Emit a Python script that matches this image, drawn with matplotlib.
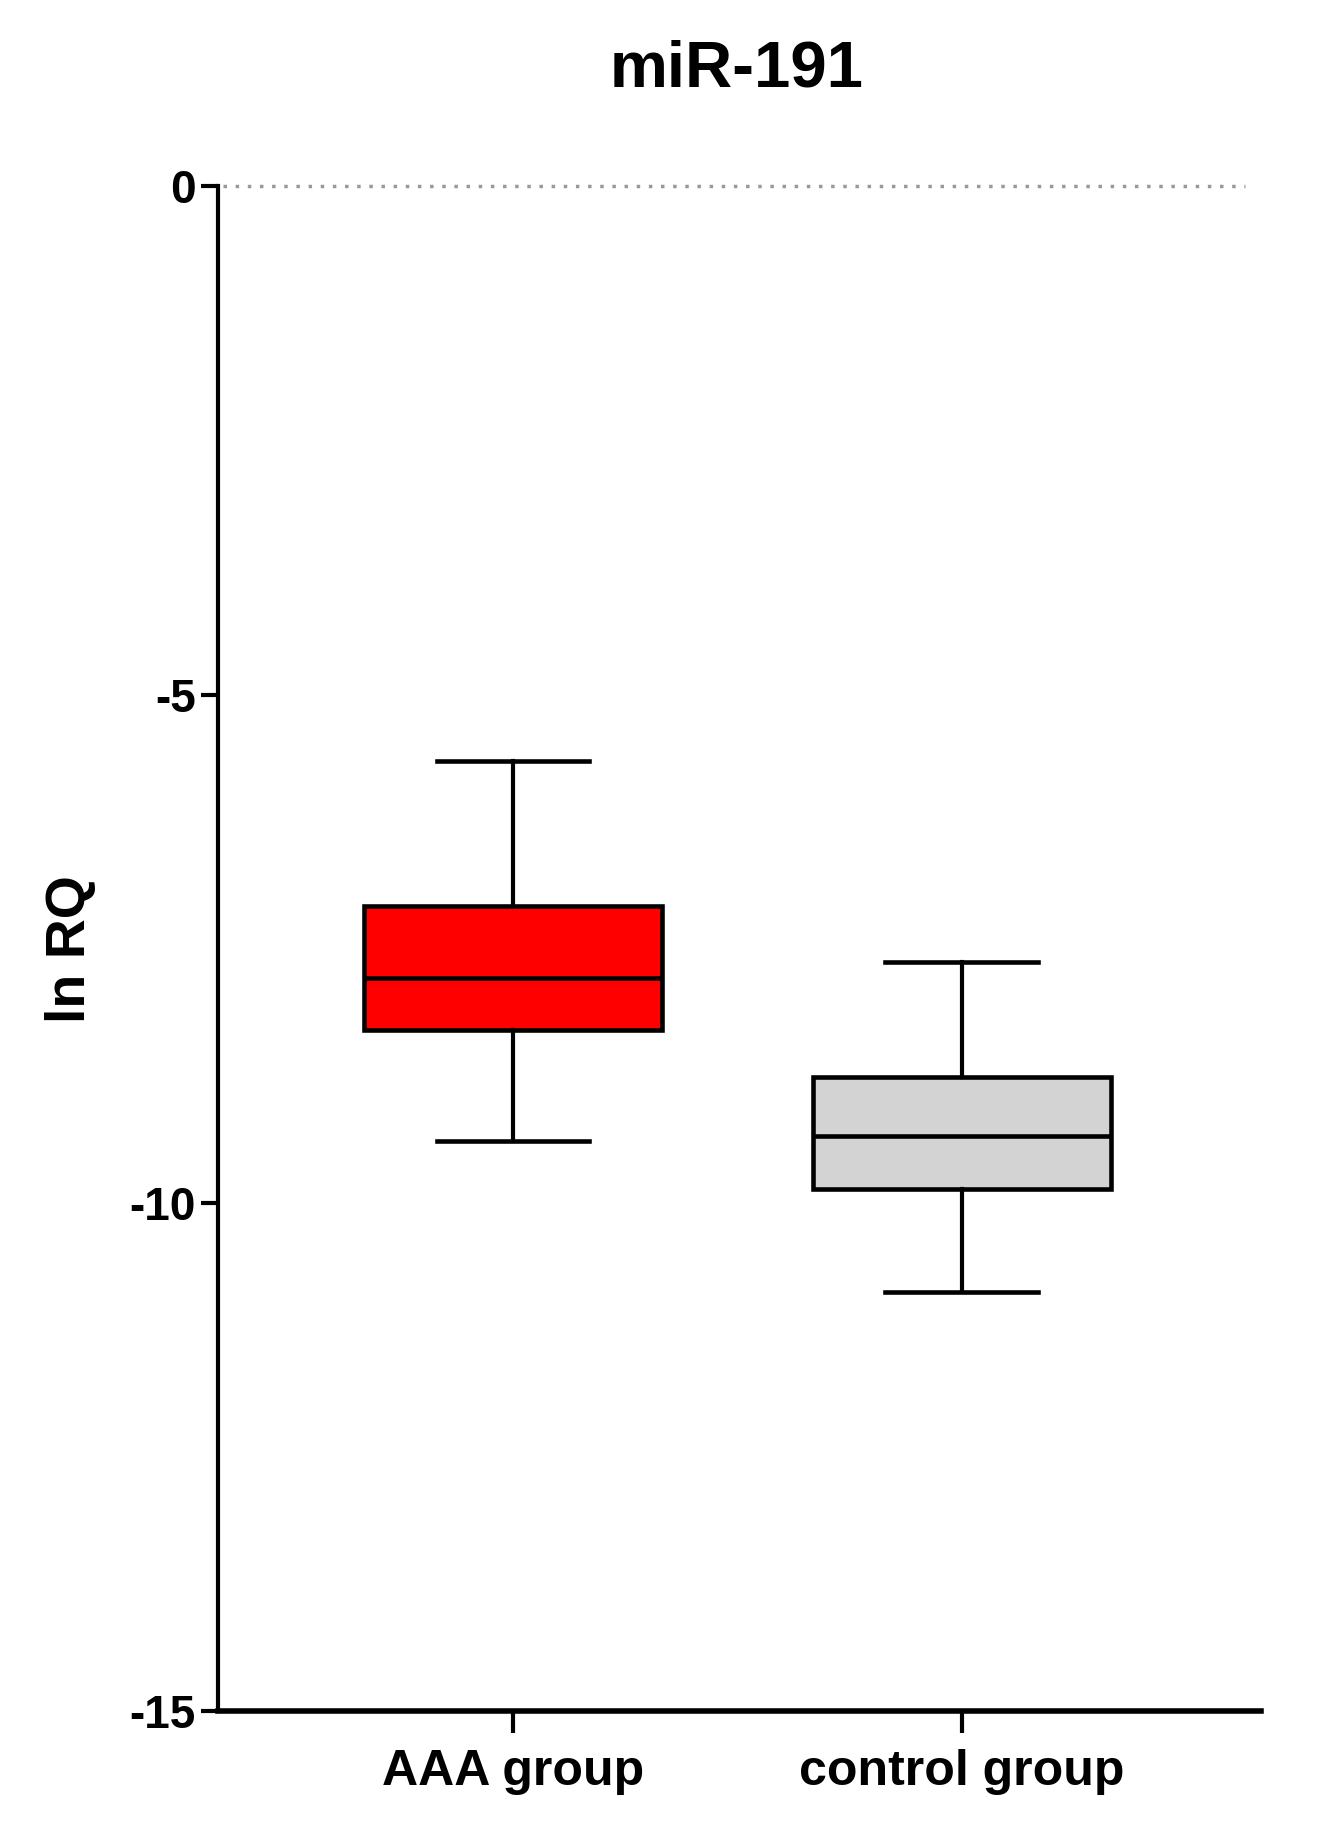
import matplotlib
matplotlib.use('Agg')
import matplotlib.pyplot as plt

plt.rcParams['font.family'] = ['Liberation Sans', 'DejaVu Sans']
plt.rcParams['font.weight'] = 'bold'

groups = ['AAA group', 'control group']
whis_low = [-9.39, -10.88]
q1 = [-8.30, -9.86]
median = [-7.79, -9.34]
q3 = [-7.08, -8.76]
whis_high = [-5.65, -7.63]
colors = ['#ff0000', '#d3d3d3']
yticks = [0, -5, -10, -15]

fig = plt.figure(figsize=(13.24, 18.28), dpi=100)
ax = fig.add_axes([0.1647, 0.064, 0.7878, 0.834])

stats = []
for i in range(len(groups)):
    stats.append({'label': groups[i], 'whislo': whis_low[i], 'q1': q1[i],
                  'med': median[i], 'q3': q3[i], 'whishi': whis_high[i]})

bp = ax.bxp(stats, positions=[0, 1], widths=0.665, showfliers=False,
            patch_artist=True,
            boxprops=dict(linewidth=3.3, edgecolor='black'),
            medianprops=dict(linewidth=3.3, color='black'),
            whiskerprops=dict(linewidth=3, color='black'),
            capprops=dict(linewidth=3.3, color='black'),
            capwidths=0.34)
for patch, c in zip(bp['boxes'], colors):
    patch.set_facecolor(c)

ax.axhline(0, color='#999999', linestyle=(0, (1, 2.5)), linewidth=2.5,
           xmin=0.005, xmax=0.985, clip_on=False)

ax.set_xlim(-0.657, 1.667)
ax.set_ylim(-15, 0)
ax.set_yticks(yticks)
ax.set_yticklabels([str(t) for t in yticks], fontsize=33, fontweight='bold')
ax.set_xticks([0, 1])
ax.set_xticklabels(groups, fontsize=36, fontweight='bold')
ax.tick_params(axis='y', length=12, width=3, pad=4)
ax.tick_params(axis='x', length=16, width=3, pad=11)

ax.spines['top'].set_visible(False)
ax.spines['right'].set_visible(False)
ax.spines['left'].set_linewidth(3)
ax.spines['bottom'].set_linewidth(4)

ax.set_ylabel('ln RQ', fontsize=40, fontweight='bold')
ax.yaxis.set_label_coords(-0.116, 0.5)

fig.text(0.556, 0.962, 'miR-191', fontsize=47, fontweight='bold',
         ha='center', va='center')

fig.savefig('out.png', dpi=100)
